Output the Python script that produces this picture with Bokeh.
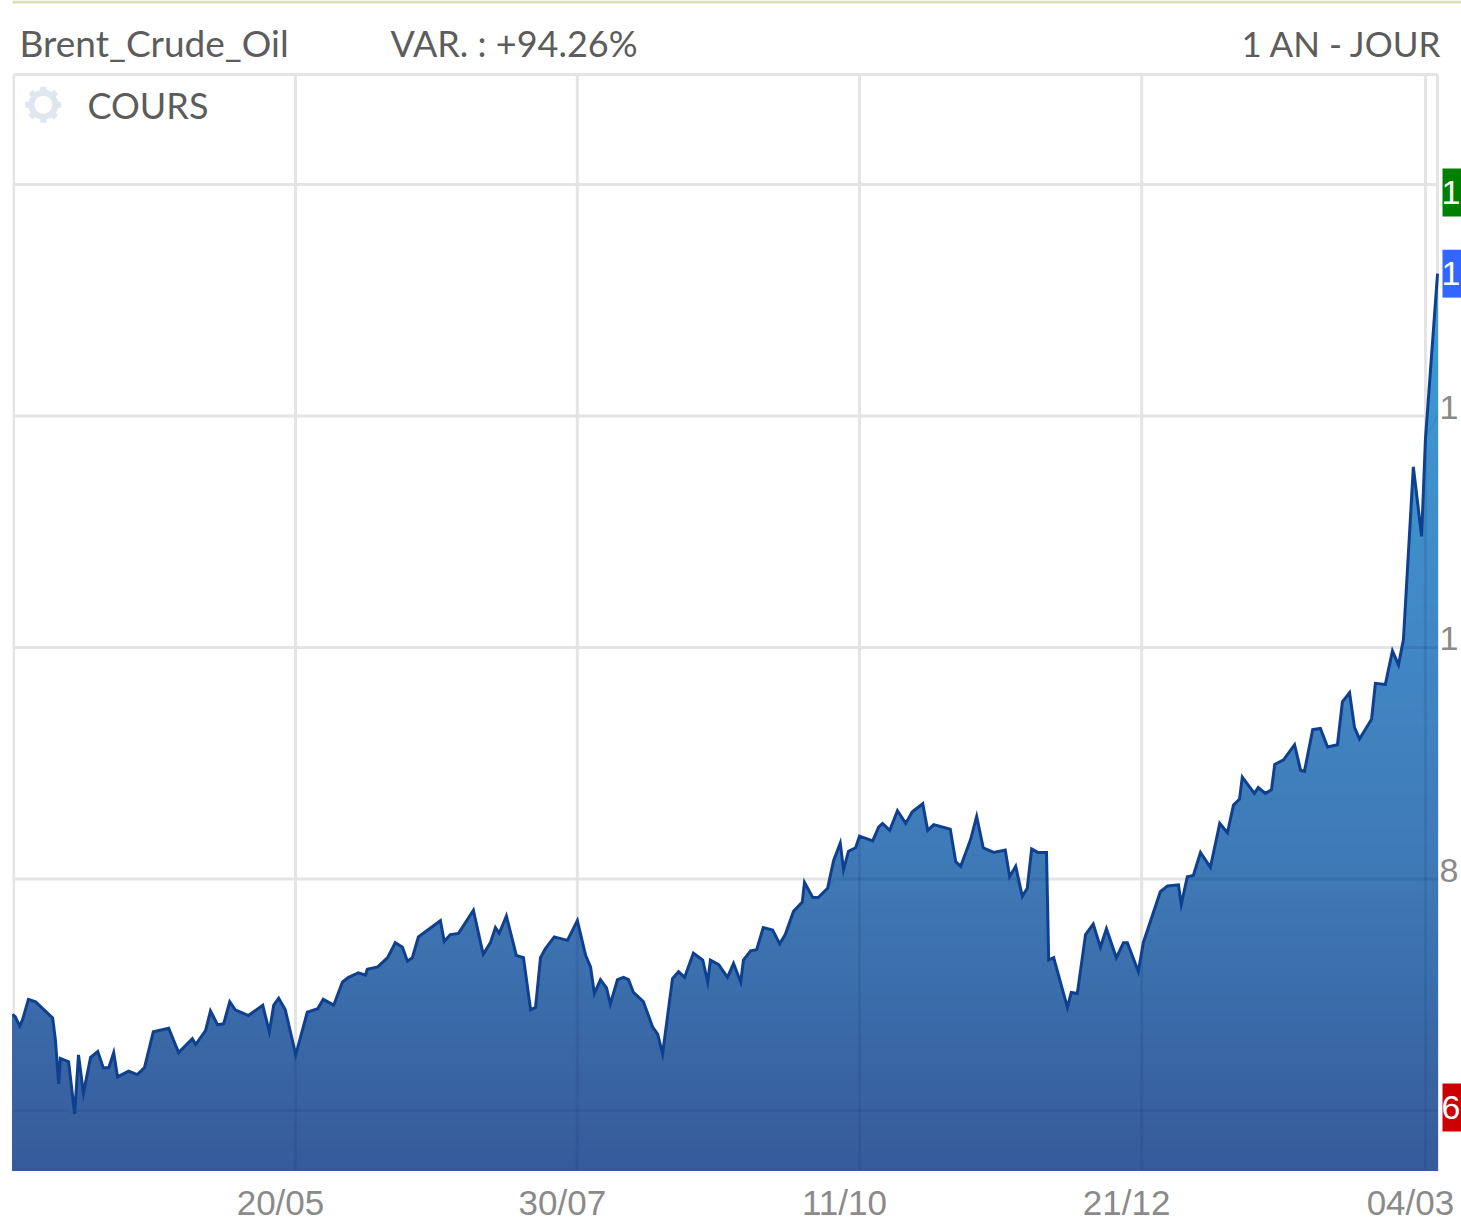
import numpy as np
from bokeh.core.properties import value
from bokeh.embed import file_html
from bokeh.resources import INLINE
from bokeh.plotting import figure
from bokeh.models import (Range1d, LinearAxis, FixedTicker, Label)

# session index (trading days since the start of the window) and Brent price
sessions = [0.0,0.5,1.3,1.8,2.9,4.2,5.5,7.3,7.8,8.4,8.7,10.2,11.3,12.0,12.9,14.2,15.5,16.5,17.5,18.4,19.1,21.1,22.7,24.0,25.6,28.4,30.2,32.7,33.3,35.1,36.0,37.3,38.4,39.5,40.5,42.9,45.5,46.7,47.5,48.4,49.6,51.5,53.6,55.5,56.5,58.4,60.0,61.1,62.9,64.2,64.5,66.4,68.2,69.6,70.9,71.8,72.7,73.8,77.8,78.5,79.6,81.1,83.8,85.1,85.6,86.9,87.8,88.5,89.8,91.6,92.9,94.2,95.1,96.0,96.9,98.5,100.9,102.7,104.2,105.1,105.8,106.9,108.0,108.7,110.0,111.1,112.0,112.9,114.7,116.4,117.3,118.2,120.0,121.1,122.2,123.8,125.5,126.4,126.9,128.4,130.0,131.1,132.4,132.9,134.2,135.3,136.5,138.2,139.5,140.5,142.0,143.6,144.0,145.5,146.5,148.2,149.3,150.5,151.1,152.0,153.3,154.0,156.4,157.5,158.2,159.5,160.9,162.4,163.6,165.5,166.4,167.5,170.5,171.5,172.4,174.2,175.3,176.5,178.4,180.5,181.3,182.4,183.6,184.5,185.3,186.4,188.0,188.4,189.3,191.8,192.5,193.6,195.1,196.5,197.8,198.9,200.7,202.0,202.7,204.7,205.6,208.7,210.0,212.0,212.5,213.6,214.7,216.0,217.8,219.5,220.9,222.0,223.1,223.6,225.8,226.5,227.8,228.9,229.5,231.1,233.1,234.2,234.9,236.4,237.8,239.1,240.9,241.8,243.1,244.0,244.9,247.1,247.8,249.6,250.9,252.0,252.9,254.7,256.2,256.9,259.1]
prices = [68.3,68.1,67.3,67.8,69.6,69.4,68.8,68.0,66.1,62.3,64.5,64.2,59.7,64.8,61.5,64.6,65.1,63.7,63.7,65.0,62.9,63.4,63.1,63.7,66.8,67.1,65.0,66.2,65.7,66.9,68.6,67.4,67.5,69.4,68.7,68.2,69.1,66.8,69.1,69.7,68.7,64.8,68.5,68.8,69.6,69.1,71.1,71.5,71.9,71.7,72.2,72.4,73.2,74.5,74.1,72.9,73.2,75.0,76.4,74.6,75.2,75.3,77.3,74.5,73.5,74.5,75.8,75.3,76.8,73.4,73.2,68.7,68.9,73.2,74.0,75.0,74.7,76.4,73.4,72.4,70.1,71.3,70.6,69.2,71.3,71.5,71.3,70.2,69.4,67.2,66.6,64.9,71.4,72.0,71.5,73.6,73.0,71.1,73.0,72.6,71.5,72.7,71.1,73.0,73.8,73.9,75.8,75.6,74.4,75.2,77.2,78.0,79.7,78.4,78.4,79.2,81.6,83.1,80.8,82.4,82.7,83.7,83.3,84.5,84.8,84.2,85.9,84.8,85.8,86.5,84.2,84.7,84.3,81.5,81.1,83.4,85.4,82.7,82.3,82.5,80.2,81.1,78.5,79.2,82.6,82.3,82.3,73.0,73.2,68.9,70.2,70.1,75.2,76.1,74.1,75.7,73.2,74.5,74.5,72.0,74.5,78.9,79.4,79.5,77.8,80.2,80.3,82.3,81.0,84.8,84.0,86.4,86.9,88.8,87.4,87.9,87.4,87.7,89.9,90.3,91.6,89.4,89.3,92.9,93.0,91.4,91.6,95.3,96.1,93.1,92.1,93.8,96.9,96.8,99.7,98.5,100.7,115.6,109.6,118.0,132.3]

x_ticks = [51.45, 102.7, 154.0, 205.3, 256.9]
x_tick_labels = ["20/05", "30/07", "11/10", "21/12", "04/03"]
y_grid = [60, 80, 100, 120, 140]
y_ticks = [80, 100, 120]
y_tick_labels = ["8", "1", "1"]   # the screenshot cuts these off after one digit

symbol = "Brent_Crude_Oil"
change = "VAR. : +94.26%"
period = "1 AN - JOUR"
series_name = "COURS"
tag_values = [139.3, 132.3, 60.26]
tag_texts = ["1", "1", "6"]
tag_colors = ["#008000", "#3366ff", "#cc0000"]

# vertical gradient of the area: value -> colour
grad_values = [54.8, 80, 92, 100, 115, 132.3]
grad_colors = [(0x36,0x5a,0x9a),(0x3e,0x78,0xb5),(0x40,0x81,0xbe),(0x40,0x87,0xc3),(0x3f,0x90,0xcc),(0x3b,0x9a,0xd6)]

PX_X, PX_Y = 5.5, 11.575          # pixels per session / per dollar
X0, X_LAST, X_END = 0.0, 259.1, 1449 / PX_X
Y0, Y_TOP, Y_END = 60 - 60 / PX_Y, 60 + 1036 / PX_Y, 60 + 1110 / PX_Y
GRID = "#e4e4e4"

p = figure(width=1461, height=1231, output_backend="svg", toolbar_location=None,
           x_range=Range1d(X0, X_END), y_range=Range1d(Y0, Y_END),
           x_axis_location=None, y_axis_location=None,
           min_border_left=12, min_border_right=0, min_border_top=0, min_border_bottom=61,
           background_fill_color="white", border_fill_color="white",
           outline_line_color=None)
p.grid.visible = False

# shifted ranges: the feed prints its tick labels left of / above the gridlines
p.extra_x_ranges["labels"] = Range1d(X0 + 15 / PX_X, X_END + 15 / PX_X)
p.extra_y_ranges["labels"] = Range1d(Y0 - 9 / PX_Y, Y_END - 9 / PX_Y)

xa = LinearAxis(x_range_name="labels", ticker=FixedTicker(ticks=x_ticks),
                major_label_overrides=dict(zip(x_ticks, x_tick_labels)),
                axis_line_color=None, major_tick_line_color=None, minor_tick_line_color=None,
                major_tick_in=0, major_tick_out=0,
                major_label_text_font="Liberation Sans", major_label_text_font_size="35px",
                major_label_text_color="#8a8a8a", major_label_standoff=12)
p.add_layout(xa, "below")
ya = LinearAxis(y_range_name="labels", ticker=FixedTicker(ticks=y_ticks),
                major_label_overrides=dict(zip(y_ticks, y_tick_labels)),
                axis_line_color=None, major_tick_line_color=None, minor_tick_line_color=None,
                major_tick_in=0, major_tick_out=0,
                major_label_text_font="Liberation Sans", major_label_text_font_size="34px",
                major_label_text_color="#8a8a8a", major_label_standoff=-22)
p.add_layout(ya, "right")

# gridlines and chart border, below the area
n_v, n_h = len(x_ticks), len(y_grid)
p.segment(x0=x_ticks, x1=x_ticks, y0=[Y0] * n_v, y1=[Y_TOP] * n_v, line_color=GRID, line_width=3)
p.segment(x0=[X0] * n_h, x1=[X_LAST] * n_h, y0=y_grid, y1=y_grid, line_color=GRID, line_width=3)
p.segment(x0=[0.2, 0.2, X_LAST], x1=[X_LAST, 0.2, X_LAST], y0=[Y_TOP, Y0, Y0], y1=[Y_TOP, Y_TOP, Y_TOP],
          line_color=GRID, line_width=3)

# strip of the page above the chart
p.quad(left=[X0 - 5], right=[X_END], bottom=[Y_END - 3 / PX_Y], top=[Y_END], fill_color="#dcdfb9", line_color=None)

sx = np.array(sessions)
sy = np.array(prices)

# gradient area: painted from the lightest (tallest) layer down
levels = np.arange(float(max(prices)), Y0, -0.75)
gv = np.array(grad_values)
gc = np.array(grad_colors, dtype=float)
for lv in levels:
    rgb = [int(round(np.interp(lv, gv, gc[:, i]))) for i in range(3)]
    p.varea(x=sessions, y1=[Y0] * len(sessions), y2=np.minimum(sy, lv).tolist(),
            fill_color="#%02x%02x%02x" % tuple(rgb), fill_alpha=1)

# gridlines showing through the area
for v in y_grid:
    p.varea(x=sessions, y1=np.minimum(sy, v - 0.12).tolist(), y2=np.minimum(sy, v + 0.12).tolist(),
            fill_color="#1c3a78", fill_alpha=0.16)
tops = np.interp(x_ticks, sx, sy)
p.segment(x0=x_ticks, x1=x_ticks, y0=[Y0] * n_v, y1=tops.tolist(),
          line_color="#1c3a78", line_alpha=0.16, line_width=3)

p.line(sessions, prices, line_color="#0f408f", line_width=3, line_join="miter")

# gear icon
p.scatter(x=[5.6], y=[146.9], marker="asterisk", size=36, line_color="#dfe6ef", line_width=6, fill_color=None)
p.scatter(x=[5.6], y=[146.9], marker="circle", size=24, line_color="#dfe6ef", line_width=6, fill_color="white")

head = dict(x_units="canvas", y_units="canvas", text_font="Lato", text_color="#5c5c5c",
            text_baseline="middle")
p.add_layout(Label(x=19, y=42, text=symbol, text_font_size="37px", **head))
p.add_layout(Label(x=390, y=42, text=change, text_font_size="36px", **head))
p.add_layout(Label(x=1442, y=42, text=period, text_font_size="35px", text_align="right", **head))
p.add_layout(Label(x=87, y=104, text=series_name, text_font_size="36px", **head))

# high / last / low tags at the right edge
tag_half = 24 / PX_Y
n_t = len(tag_values)
p.quad(left=[1430 / PX_X] * n_t, right=[X_END] * n_t,
       bottom=[v - tag_half for v in tag_values], top=[v + tag_half for v in tag_values],
       fill_color=tag_colors, line_color=None)
p.text(x=[1448 / PX_X] * n_t, y=tag_values, text=tag_texts, text_color="white",
       text_font=value("Liberation Sans"), text_font_size="34px",
       text_align="right", text_baseline="middle")

open("out.html", "w").write(file_html(p, INLINE))
